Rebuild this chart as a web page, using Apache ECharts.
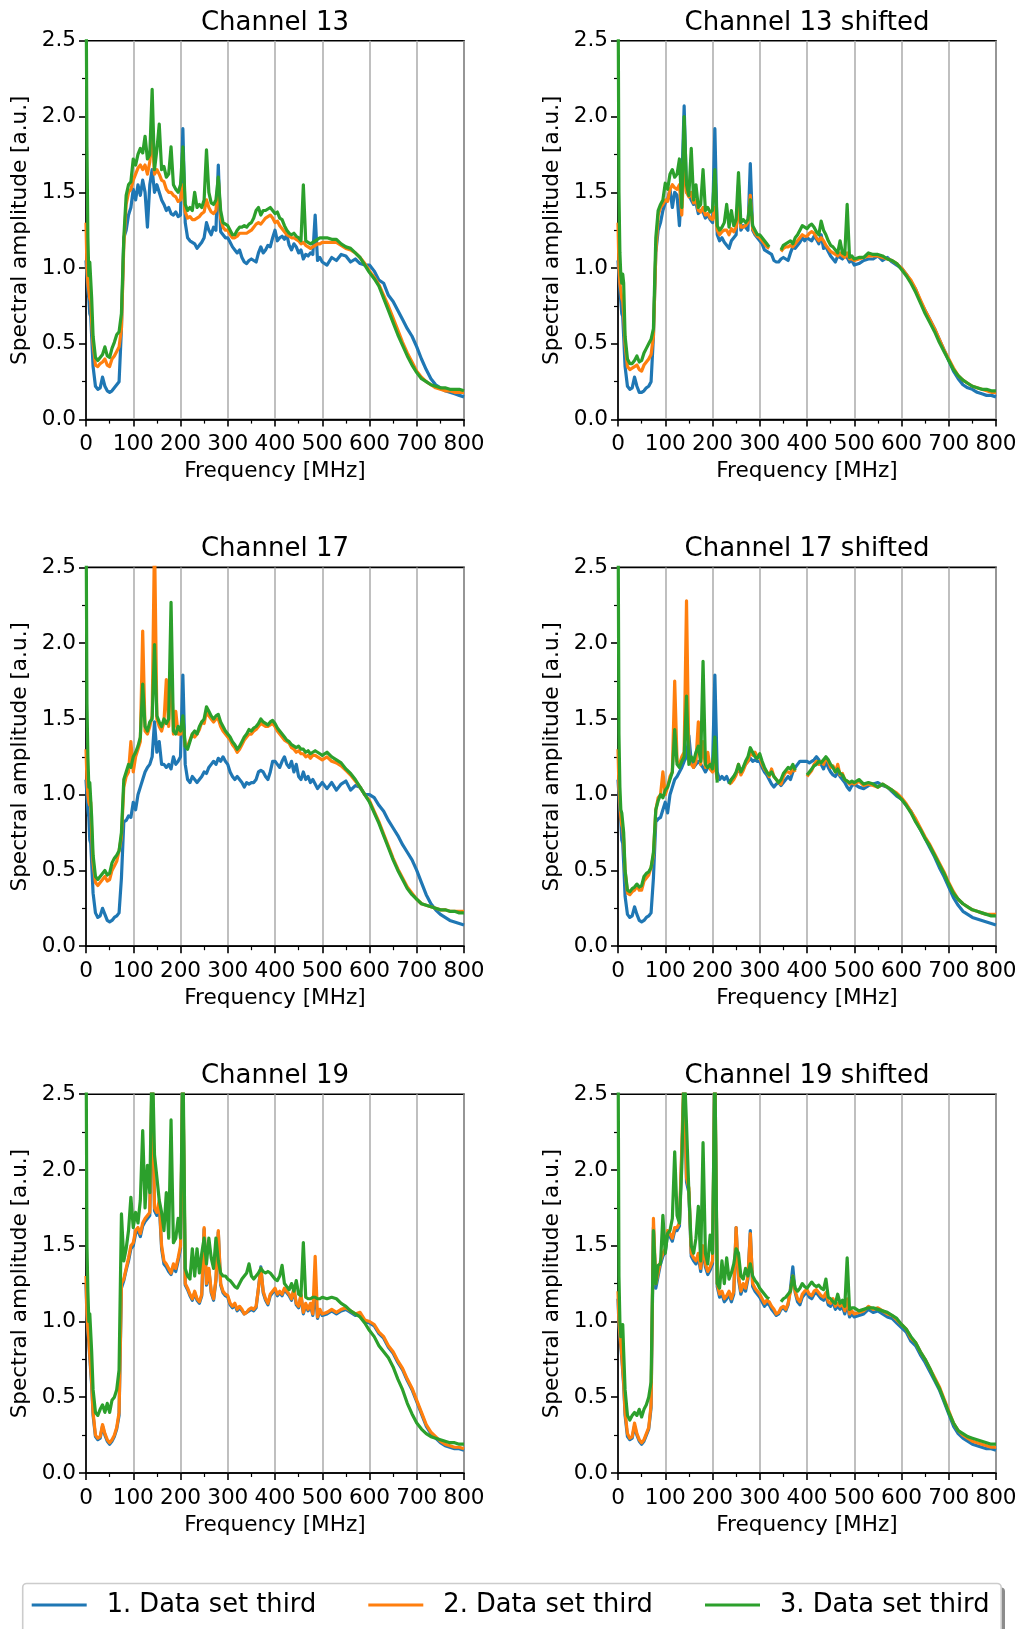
<!DOCTYPE html>
<html>
<head>
<meta charset="utf-8">
<title>Spectral amplitude per channel</title>
<script src="https://cdn.jsdelivr.net/npm/echarts@6/dist/echarts.min.js"></script>
<style>
  html, body { margin: 0; padding: 0; background: #fff; }
  #chart { width: 1022px; height: 1629px; }
</style>
</head>
<body>
<div id="chart"></div>
<script>
// Frequency sampling points [MHz], shared by every trace
const FREQ = [
  0, 2, 4, 6, 8, 10, 12,
  15, 20, 25, 30, 35, 40, 45, 50, 55, 60, 65, 70, 75, 80, 85, 90, 95,
  100, 105, 110, 115, 120, 125, 130, 135, 140, 145, 150, 155, 160, 165, 170, 175, 180, 185, 190, 195,
  200, 205, 210, 215, 220, 225, 230, 235, 240, 245, 250, 255, 260, 265, 270, 275, 280, 285, 290, 295,
  300, 305, 310, 315, 320, 325, 330, 335, 340, 345, 350, 355, 360, 365, 370, 375, 380, 385, 390, 395,
  400, 405, 410, 415, 420, 425, 430, 435, 440, 445, 450, 455, 460, 465, 470, 475, 480, 485, 490, 495,
  500, 510, 520, 530, 540, 550, 560, 570, 580, 590,
  600, 610, 620, 630, 640, 650, 660, 670, 680, 690,
  700, 710, 720, 730, 740, 750, 760, 770, 780, 790, 800
];

const SET_NAMES = ['1. Data set third', '2. Data set third', '3. Data set third'];
const SET_COLORS = ['#1f77b4', '#ff7f0e', '#2ca02c'];
const PANEL_TITLES = ['Channel 13', 'Channel 13 shifted', 'Channel 17', 'Channel 17 shifted', 'Channel 19', 'Channel 19 shifted'];
const X_LABEL = 'Frequency [MHz]';
const Y_LABEL = 'Spectral amplitude [a.u.]';
const X_TICKS = [0, 100, 200, 300, 400, 500, 600, 700, 800];
const Y_TICKS = [0.0, 0.5, 1.0, 1.5, 2.0, 2.5];

// ---- Channel 13 ----
const ch13_set1 = [
  1.05,0.95,0.85,0.80,0.70,0.68,0.55,
  0.35,0.22,0.20,0.21,0.28,0.22,0.19,0.18,0.19,0.21,0.23,0.25,0.60,1.20,1.25,1.35,1.40,
  1.52,1.45,1.55,1.48,1.58,1.50,1.27,1.55,1.65,1.50,1.55,1.50,1.45,1.42,1.38,1.40,1.36,1.35,1.37,1.34,
  1.35,1.92,1.30,1.20,1.18,1.17,1.16,1.13,1.15,1.17,1.20,1.30,1.25,1.22,1.27,1.25,1.68,1.24,1.22,1.20,
  1.20,1.17,1.14,1.12,1.10,1.12,1.07,1.04,1.03,1.05,1.06,1.05,1.04,1.10,1.14,1.10,1.12,1.15,1.14,1.20,
  1.25,1.18,1.20,1.21,1.19,1.22,1.15,1.12,1.16,1.14,1.10,1.12,1.06,1.09,1.08,1.10,1.09,1.35,1.05,1.07,
  1.04,1.02,1.07,1.05,1.09,1.08,1.04,1.06,1.03,1.02,
  1.02,0.98,0.92,0.90,0.82,0.78,0.72,0.66,0.60,0.55,
  0.48,0.40,0.33,0.27,0.23,0.21,0.19,0.18,0.17,0.16,0.15
];
const ch13_set2 = [
  1.30,1.00,0.90,0.85,0.80,0.78,0.65,
  0.50,0.36,0.35,0.37,0.38,0.40,0.36,0.35,0.40,0.42,0.45,0.48,0.60,1.15,1.42,1.50,1.52,
  1.58,1.62,1.66,1.68,1.65,1.68,1.62,1.70,1.88,1.62,1.65,1.62,1.58,1.57,1.52,1.50,1.50,1.48,1.47,1.44,
  1.45,1.55,1.37,1.33,1.34,1.32,1.32,1.33,1.34,1.36,1.37,1.45,1.40,1.37,1.36,1.38,1.58,1.33,1.27,1.25,
  1.25,1.22,1.20,1.20,1.21,1.23,1.23,1.23,1.23,1.24,1.25,1.27,1.29,1.30,1.29,1.31,1.33,1.34,1.35,1.33,
  1.30,1.31,1.28,1.26,1.24,1.22,1.21,1.20,1.20,1.19,1.18,1.16,1.17,1.15,1.14,1.13,1.14,1.15,1.16,1.16,
  1.17,1.17,1.17,1.17,1.15,1.13,1.12,1.10,1.07,1.03,
  0.98,0.94,0.89,0.82,0.75,0.67,0.59,0.51,0.44,0.38,
  0.32,0.28,0.25,0.23,0.21,0.20,0.19,0.19,0.18,0.18,0.18
];
const ch13_set3 = [
  3.00,1.80,1.20,0.95,1.04,1.04,0.80,
  0.55,0.41,0.39,0.41,0.43,0.48,0.42,0.41,0.47,0.51,0.56,0.58,0.70,1.20,1.48,1.55,1.57,
  1.72,1.68,1.75,1.79,1.76,1.87,1.72,1.75,2.18,1.65,1.78,1.95,1.65,1.67,1.60,1.62,1.80,1.55,1.52,1.50,
  1.55,1.80,1.42,1.38,1.40,1.38,1.50,1.40,1.42,1.40,1.45,1.78,1.50,1.43,1.42,1.45,1.60,1.38,1.30,1.29,
  1.28,1.25,1.22,1.22,1.25,1.27,1.27,1.28,1.27,1.29,1.30,1.33,1.38,1.40,1.35,1.38,1.38,1.39,1.40,1.38,
  1.36,1.37,1.33,1.32,1.28,1.25,1.23,1.22,1.23,1.21,1.20,1.18,1.55,1.18,1.17,1.16,1.17,1.18,1.19,1.20,
  1.20,1.20,1.19,1.19,1.16,1.14,1.13,1.10,1.07,1.02,
  0.97,0.93,0.88,0.80,0.72,0.64,0.56,0.49,0.42,0.36,
  0.31,0.27,0.25,0.23,0.22,0.21,0.21,0.20,0.20,0.20,0.19
];

// ---- Channel 13 shifted ----
const ch13s_set1 = [
  1.05,0.95,0.85,0.78,0.70,0.68,0.55,
  0.35,0.22,0.20,0.21,0.28,0.22,0.18,0.18,0.19,0.21,0.22,0.25,0.55,1.10,1.25,1.30,1.38,
  1.43,1.45,1.52,1.40,1.50,1.48,1.28,1.55,2.07,1.50,1.48,1.45,1.42,1.43,1.36,1.38,1.37,1.33,1.35,1.32,
  1.30,1.92,1.22,1.18,1.20,1.17,1.15,1.13,1.18,1.20,1.22,1.55,1.25,1.28,1.27,1.25,1.69,1.25,1.22,1.20,
  1.18,1.16,1.12,1.11,1.10,1.09,1.05,1.04,1.04,1.06,1.07,1.06,1.05,1.10,1.14,1.13,1.15,1.17,1.20,1.18,
  1.20,1.19,1.18,1.21,1.19,1.16,1.22,1.13,1.14,1.11,1.08,1.06,1.04,1.08,1.07,1.06,1.09,1.07,1.04,1.05,
  1.02,1.03,1.05,1.06,1.06,1.08,1.05,1.07,1.04,1.02,
  1.00,0.96,0.91,0.86,0.78,0.72,0.66,0.60,0.53,0.46,
  0.39,0.32,0.27,0.23,0.21,0.20,0.18,0.17,0.16,0.16,0.15
];
const ch13s_set2 = [
  1.30,1.00,0.90,0.85,0.80,0.78,0.70,
  0.50,0.35,0.33,0.34,0.35,0.36,0.33,0.32,0.36,0.38,0.40,0.43,0.55,1.10,1.35,1.40,1.42,
  1.45,1.44,1.52,1.55,1.53,1.52,1.55,1.35,1.75,1.50,1.47,1.50,1.43,1.45,1.38,1.37,1.40,1.35,1.36,1.33,
  1.32,1.40,1.25,1.22,1.24,1.25,1.25,1.22,1.26,1.24,1.27,1.40,1.27,1.27,1.28,1.30,1.48,1.26,1.23,1.21,
  1.20,1.18,1.16,1.14,1.13,null,null,null,null,1.11,1.13,1.14,1.14,1.15,1.14,1.16,1.18,1.20,1.22,1.21,
  1.21,1.23,1.24,1.23,1.20,1.18,1.20,1.18,1.15,1.13,1.11,1.10,1.09,1.08,1.10,1.08,1.07,1.10,1.06,1.06,
  1.05,1.06,1.07,1.08,1.08,1.08,1.07,1.06,1.05,1.03,
  1.00,0.96,0.92,0.86,0.79,0.72,0.66,0.60,0.53,0.46,
  0.40,0.34,0.29,0.26,0.24,0.22,0.21,0.20,0.19,0.18,0.18
];
const ch13s_set3 = [
  3.00,1.50,1.10,0.95,0.90,0.96,0.90,
  0.55,0.40,0.37,0.37,0.39,0.42,0.38,0.39,0.44,0.47,0.50,0.53,0.60,1.20,1.38,1.42,1.45,
  1.56,1.52,1.62,1.65,1.60,1.62,1.72,1.40,2.00,1.55,1.48,1.79,1.45,1.55,1.40,1.42,1.65,1.38,1.40,1.37,
  1.38,1.65,1.28,1.25,1.27,1.30,1.42,1.27,1.38,1.28,1.32,1.63,1.30,1.32,1.30,1.32,1.45,1.28,1.25,1.22,
  1.22,1.20,1.18,1.16,1.14,null,null,null,null,1.12,1.15,1.16,1.17,1.18,1.16,1.20,1.22,1.25,1.28,1.27,
  1.26,1.28,1.29,1.27,1.24,1.22,1.31,1.25,1.22,1.18,1.15,1.14,1.12,1.10,1.18,1.10,1.09,1.42,1.07,1.08,
  1.06,1.07,1.07,1.10,1.09,1.09,1.08,1.06,1.05,1.03,
  0.99,0.95,0.90,0.84,0.77,0.70,0.64,0.58,0.51,0.45,
  0.39,0.33,0.29,0.26,0.24,0.22,0.21,0.20,0.20,0.19,0.19
];

// ---- Channel 17 ----
const ch17_set1 = [
  1.10,1.00,0.90,0.85,0.70,0.68,0.55,
  0.35,0.22,0.19,0.20,0.25,0.21,0.17,0.16,0.17,0.19,0.20,0.22,0.45,0.82,0.83,0.86,0.85,
  0.95,0.90,1.00,1.05,1.10,1.15,1.18,1.20,1.25,1.48,1.28,1.35,1.20,1.20,1.18,1.20,1.17,1.25,1.20,1.22,
  1.25,1.79,1.20,1.10,1.08,1.12,1.10,1.08,1.10,1.12,1.15,1.14,1.18,1.20,1.22,1.20,1.24,1.22,1.25,1.22,
  1.20,1.15,1.12,1.10,1.12,1.10,1.08,1.05,1.08,1.07,1.08,1.08,1.10,1.15,1.16,1.15,1.12,1.10,1.15,1.22,
  1.22,1.20,1.18,1.22,1.25,1.20,1.18,1.22,1.15,1.20,1.12,1.10,1.15,1.10,1.12,1.08,1.10,1.07,1.04,1.06,
  1.08,1.04,1.08,1.03,1.07,1.09,1.03,1.06,1.05,1.00,
  1.00,0.98,0.93,0.89,0.83,0.78,0.73,0.67,0.62,0.57,
  0.50,0.42,0.34,0.28,0.24,0.21,0.19,0.17,0.16,0.15,0.14
];
const ch17_set2 = [
  1.30,1.10,1.00,0.95,0.93,0.95,0.75,
  0.55,0.42,0.40,0.42,0.44,0.46,0.43,0.44,0.50,0.53,0.56,0.63,0.72,1.05,1.12,1.15,1.35,
  1.15,1.25,1.30,1.35,2.08,1.42,1.40,1.45,1.52,2.70,1.50,1.45,1.42,1.48,1.76,1.45,1.90,1.40,1.55,1.40,
  1.40,1.48,1.32,1.32,1.36,1.40,1.38,1.40,1.43,1.48,1.47,1.55,1.52,1.50,1.48,1.50,1.50,1.45,1.42,1.40,
  1.38,1.36,1.33,1.31,1.28,1.30,1.33,1.36,1.38,1.40,1.40,1.42,1.43,1.45,1.47,1.46,1.45,1.45,1.46,1.47,
  1.45,1.42,1.40,1.38,1.36,1.35,1.34,1.31,1.30,1.28,1.29,1.27,1.27,1.25,1.26,1.24,1.26,1.26,1.25,1.24,
  1.23,1.25,1.22,1.21,1.19,1.16,1.13,1.09,1.05,1.00,
  0.96,0.89,0.82,0.74,0.66,0.58,0.51,0.45,0.39,0.35,
  0.31,0.28,0.27,0.26,0.25,0.24,0.24,0.23,0.23,0.23,0.23
];
const ch17_set3 = [
  3.00,1.60,1.25,1.05,1.08,1.08,0.85,
  0.60,0.46,0.44,0.46,0.48,0.50,0.47,0.48,0.55,0.58,0.60,0.63,0.75,1.10,1.15,1.20,1.18,
  1.25,1.28,1.32,1.38,1.73,1.45,1.42,1.48,1.50,1.99,1.52,1.48,1.45,1.50,1.47,1.50,2.27,1.42,1.40,1.45,
  1.42,1.52,1.32,1.30,1.35,1.40,1.42,1.40,1.45,1.48,1.50,1.58,1.55,1.52,1.50,1.52,1.53,1.48,1.45,1.42,
  1.40,1.38,1.35,1.33,1.30,1.32,1.35,1.38,1.40,1.43,1.42,1.44,1.45,1.47,1.50,1.48,1.47,1.46,1.48,1.49,
  1.47,1.44,1.42,1.40,1.38,1.36,1.35,1.33,1.32,1.31,1.32,1.30,1.30,1.28,1.29,1.27,1.28,1.29,1.28,1.27,
  1.26,1.28,1.25,1.23,1.21,1.17,1.14,1.10,1.05,1.00,
  0.95,0.88,0.81,0.73,0.65,0.57,0.50,0.44,0.38,0.34,
  0.31,0.28,0.27,0.26,0.25,0.24,0.24,0.23,0.23,0.22,0.22
];

// ---- Channel 17 shifted ----
const ch17s_set1 = [
  1.10,1.00,0.90,0.82,0.70,0.68,0.55,
  0.33,0.21,0.19,0.20,0.26,0.21,0.17,0.16,0.17,0.19,0.20,0.22,0.45,0.82,0.84,0.85,0.90,
  0.95,0.88,1.00,1.05,1.10,1.12,1.15,1.18,1.22,1.25,1.39,1.22,1.18,1.20,1.22,1.20,1.18,1.15,1.18,1.20,
  1.18,1.79,1.15,1.10,1.12,1.10,1.12,1.08,1.10,1.12,1.14,1.16,1.15,1.18,1.20,1.22,1.24,1.22,1.23,1.22,
  1.22,1.18,1.15,1.13,1.10,1.07,1.05,1.07,1.08,1.06,1.08,1.10,1.12,1.10,1.15,1.18,1.20,1.22,1.22,1.22,
  1.22,1.21,1.22,1.23,1.25,1.23,1.20,1.17,1.22,1.18,1.15,1.13,1.12,1.15,1.12,1.10,1.08,1.05,1.03,1.06,
  1.07,1.05,1.04,1.06,1.07,1.08,1.06,1.05,1.02,0.99,
  0.97,0.93,0.89,0.83,0.77,0.71,0.65,0.59,0.52,0.46,
  0.39,0.32,0.27,0.23,0.21,0.19,0.18,0.17,0.16,0.15,0.14
];
const ch17s_set2 = [
  1.30,1.05,0.95,0.85,0.80,0.78,0.70,
  0.50,0.35,0.34,0.36,0.37,0.40,0.37,0.37,0.43,0.45,0.47,0.52,0.60,0.90,0.98,1.00,1.15,
  1.00,1.05,1.12,1.15,1.75,1.22,1.20,1.25,1.28,2.28,1.22,1.20,1.18,1.22,1.48,1.20,1.35,1.18,1.28,1.17,
  1.15,1.20,1.10,null,null,null,null,1.07,1.08,1.10,1.13,1.20,1.13,1.16,1.20,1.22,1.28,1.26,1.28,1.25,
  1.25,1.20,1.17,1.15,1.12,1.17,1.12,1.10,1.08,1.07,1.12,1.15,1.15,1.14,1.18,1.15,null,null,null,null,
  1.12,1.14,1.16,1.20,1.22,1.20,1.22,1.20,1.24,1.22,1.18,1.19,1.15,1.20,1.13,1.14,1.10,1.09,1.07,1.08,
  1.07,1.09,1.06,1.07,1.06,1.05,1.07,1.05,1.03,1.01,
  0.98,0.94,0.89,0.84,0.78,0.72,0.67,0.61,0.55,0.49,
  0.42,0.36,0.31,0.28,0.26,0.24,0.23,0.22,0.21,0.21,0.21
];
const ch17s_set3 = [
  3.00,1.40,1.05,0.90,0.88,0.88,0.75,
  0.50,0.37,0.36,0.38,0.39,0.41,0.39,0.40,0.46,0.48,0.49,0.52,0.62,0.90,0.96,1.00,0.98,
  1.03,1.05,1.10,1.15,1.43,1.20,1.18,1.22,1.25,1.65,1.20,1.25,1.22,1.28,1.32,1.22,1.88,1.20,1.18,1.20,
  1.17,1.38,1.08,null,null,null,null,1.07,1.10,1.12,1.15,1.20,1.15,1.18,1.22,1.25,1.31,1.28,1.25,1.24,
  1.27,1.22,1.18,1.15,1.13,1.15,1.12,1.10,1.08,1.10,1.14,1.16,1.18,1.17,1.20,1.16,null,null,null,null,
  1.13,1.15,1.17,1.19,1.20,1.22,1.21,1.23,1.25,1.23,1.20,1.18,1.15,1.17,1.14,1.13,1.10,1.09,1.08,1.09,
  1.08,1.10,1.07,1.08,1.07,1.05,1.07,1.05,1.03,1.00,
  0.97,0.93,0.88,0.82,0.77,0.71,0.66,0.60,0.54,0.48,
  0.41,0.35,0.31,0.28,0.26,0.24,0.23,0.22,0.21,0.20,0.20
];

// ---- Channel 19 ----
const ch19_set1 = [
  1.25,1.03,0.93,0.86,0.76,0.75,0.58,
  0.38,0.24,0.22,0.23,0.31,0.25,0.21,0.19,0.21,0.24,0.29,0.38,1.22,1.27,1.34,1.40,1.48,
  1.50,1.58,1.60,1.56,1.63,1.66,1.68,1.70,2.60,1.73,1.70,1.78,1.48,1.38,1.36,1.33,1.31,1.36,1.33,1.40,
  1.48,2.60,1.24,1.21,1.17,1.14,1.19,1.14,1.12,1.17,1.61,1.24,1.34,1.19,1.14,1.27,1.59,1.24,1.19,1.17,
  1.16,1.11,1.09,1.11,1.07,1.09,1.07,1.05,1.06,1.07,1.08,1.07,1.09,1.22,1.36,1.19,1.14,1.11,1.17,1.19,
  1.21,1.17,1.19,1.17,1.21,1.19,1.17,1.14,1.21,1.11,1.09,1.17,1.05,1.11,1.07,1.11,1.04,1.20,1.02,1.07,
  1.04,1.05,1.07,1.05,1.07,1.08,1.06,1.04,1.05,1.00,
  0.99,0.97,0.92,0.89,0.83,0.79,0.73,0.68,0.61,0.55,
  0.47,0.39,0.31,0.26,0.23,0.20,0.18,0.17,0.16,0.16,0.15
];
const ch19_set2 = [
  1.30,1.05,0.95,0.88,0.78,0.77,0.60,
  0.40,0.25,0.23,0.24,0.32,0.26,0.22,0.20,0.22,0.25,0.30,0.40,1.25,1.28,1.35,1.42,1.50,
  1.52,1.60,1.62,1.58,1.65,1.68,1.70,1.72,2.70,1.75,1.72,1.80,1.50,1.40,1.38,1.35,1.32,1.38,1.35,1.42,
  1.50,2.70,1.25,1.22,1.18,1.15,1.20,1.15,1.13,1.18,1.62,1.25,1.35,1.20,1.15,1.28,1.60,1.25,1.20,1.18,
  1.17,1.12,1.10,1.12,1.08,1.10,1.08,1.05,1.06,1.08,1.09,1.08,1.10,1.22,1.35,1.20,1.15,1.12,1.18,1.20,
  1.22,1.18,1.20,1.18,1.22,1.20,1.18,1.15,1.22,1.12,1.10,1.18,1.06,1.12,1.08,1.12,1.05,1.43,1.03,1.08,
  1.05,1.06,1.08,1.06,1.08,1.09,1.07,1.05,1.06,1.01,
  1.00,0.98,0.93,0.90,0.84,0.80,0.74,0.69,0.62,0.56,
  0.48,0.40,0.32,0.27,0.24,0.21,0.19,0.18,0.17,0.17,0.16
];
const ch19_set3 = [
  3.00,1.50,1.20,1.00,1.05,1.05,0.80,
  0.55,0.40,0.38,0.42,0.45,0.40,0.46,0.40,0.48,0.50,0.55,0.68,1.71,1.40,1.48,1.60,1.82,
  1.62,1.72,1.65,1.80,2.26,1.75,2.03,1.85,2.80,2.10,1.95,1.80,1.72,1.60,1.85,1.55,2.33,1.52,1.55,1.68,
  1.55,2.80,1.35,1.30,1.28,1.48,1.30,1.48,1.32,1.45,1.55,1.38,1.55,1.42,1.35,1.55,1.40,1.32,1.30,1.30,
  1.28,1.27,1.25,1.23,1.22,1.25,1.28,1.30,1.32,1.38,1.30,1.28,1.30,1.32,1.35,1.33,1.32,1.33,1.32,1.30,
  1.28,1.27,1.30,1.37,1.25,1.23,1.21,1.25,1.20,1.27,1.18,1.17,1.52,1.16,1.15,1.15,1.16,1.16,1.15,1.15,
  1.16,1.15,1.16,1.15,1.12,1.10,1.07,1.05,1.03,0.99,
  0.94,0.90,0.84,0.80,0.76,0.70,0.62,0.55,0.46,0.39,
  0.33,0.29,0.26,0.24,0.23,0.22,0.21,0.20,0.20,0.19,0.19
];

// ---- Channel 19 shifted ----
const ch19s_set1 = [
  1.15,0.98,0.90,0.83,0.76,0.75,0.58,
  0.38,0.24,0.22,0.23,0.31,0.25,0.21,0.19,0.21,0.25,0.29,0.43,1.62,1.22,1.30,1.38,1.43,
  1.46,1.58,1.56,1.53,1.60,1.60,1.63,2.10,2.60,1.92,1.85,1.43,1.40,1.38,1.43,1.33,1.48,1.36,1.31,1.34,
  1.38,2.60,1.23,1.16,1.18,1.13,1.15,1.18,1.13,1.18,1.62,1.28,1.18,1.23,1.20,1.28,1.60,1.23,1.20,1.18,
  1.16,1.13,1.10,1.12,1.11,1.08,1.06,1.04,1.05,1.08,1.09,1.07,1.11,1.22,1.36,1.19,1.13,1.11,1.16,1.18,
  1.19,1.16,1.15,1.18,1.19,1.17,1.15,1.14,1.17,1.11,1.10,1.13,1.08,1.10,1.08,1.10,1.05,1.12,1.03,1.05,
  1.03,1.04,1.05,1.08,1.06,1.07,1.05,1.03,1.02,0.99,
  0.96,0.93,0.87,0.84,0.78,0.73,0.67,0.61,0.55,0.47,
  0.39,0.31,0.26,0.23,0.21,0.19,0.18,0.17,0.16,0.16,0.15
];
const ch19s_set2 = [
  1.20,1.00,0.92,0.85,0.78,0.77,0.60,
  0.40,0.26,0.23,0.24,0.33,0.26,0.22,0.20,0.22,0.26,0.30,0.45,1.68,1.25,1.32,1.40,1.45,
  1.48,1.60,1.58,1.55,1.62,1.62,1.65,2.15,2.70,1.95,1.88,1.45,1.42,1.40,1.45,1.35,1.50,1.38,1.33,1.36,
  1.40,2.70,1.25,1.18,1.20,1.15,1.17,1.20,1.15,1.20,1.62,1.30,1.20,1.25,1.22,1.30,1.58,1.25,1.22,1.20,
  1.18,1.15,1.12,1.14,1.13,1.10,1.08,1.05,1.06,1.09,1.10,1.08,1.12,1.20,1.30,1.20,1.15,1.13,1.18,1.20,
  1.21,1.18,1.17,1.20,1.21,1.19,1.17,1.16,1.19,1.13,1.12,1.15,1.10,1.12,1.10,1.12,1.07,1.15,1.05,1.07,
  1.05,1.06,1.07,1.10,1.08,1.09,1.07,1.05,1.04,1.01,
  0.98,0.95,0.89,0.86,0.80,0.75,0.69,0.63,0.57,0.49,
  0.41,0.33,0.28,0.25,0.23,0.21,0.20,0.19,0.18,0.17,0.17
];
const ch19s_set3 = [
  3.00,1.30,1.00,0.90,0.95,0.98,0.80,
  0.55,0.38,0.35,0.38,0.40,0.38,0.42,0.37,0.42,0.45,0.50,0.60,1.60,1.25,1.37,1.38,1.70,
  1.45,1.58,1.60,1.68,2.12,1.70,1.65,2.02,2.70,2.30,1.85,1.50,1.45,1.55,1.76,1.40,2.18,1.45,1.38,1.57,
  1.45,2.70,1.25,1.22,1.40,1.25,1.42,1.28,1.32,1.38,1.48,1.45,1.30,1.28,1.35,1.30,1.38,1.30,1.27,1.25,
  1.22,1.20,1.18,1.16,1.15,null,null,null,null,1.13,1.15,1.16,1.18,1.20,1.30,1.22,1.20,1.22,1.25,1.23,
  1.22,1.24,1.26,1.24,1.23,1.24,1.22,1.21,1.28,1.16,1.15,1.13,1.12,1.18,1.12,1.14,1.10,1.42,1.08,1.09,
  1.09,1.07,1.08,1.09,1.09,1.08,1.07,1.06,1.04,1.02,
  0.98,0.95,0.90,0.86,0.80,0.75,0.69,0.62,0.56,0.48,
  0.40,0.33,0.28,0.26,0.24,0.23,0.22,0.21,0.20,0.19,0.19
];

const PANELS = [
  [ch13_set1, ch13_set2, ch13_set3],
  [ch13s_set1, ch13s_set2, ch13s_set3],
  [ch17_set1, ch17_set2, ch17_set3],
  [ch17s_set1, ch17s_set2, ch17s_set3],
  [ch19_set1, ch19_set2, ch19_set3],
  [ch19s_set1, ch19s_set2, ch19s_set3]
];

// ---------- layout ----------
const FONT = 'DejaVu Sans';
const COL_LEFT = [86, 618];
const ROW_TOP = [40.8, 567.4, 1094.2];
const PLOT_W = 378;
const PLOT_H = 378.8;
const LINE_W = 3.2;

const grids = [], xAxes = [], yAxes = [], series = [], graphics = [];

PANELS.forEach(function (sets, p) {
  const col = p % 2, row = Math.floor(p / 2);
  const left = COL_LEFT[col], top = ROW_TOP[row];
  grids.push({
    left: left, top: top, width: PLOT_W, height: PLOT_H,
    show: true, borderColor: '#000', borderWidth: 1.6, backgroundColor: 'transparent',
    containLabel: false
  });
  xAxes.push({
    type: 'value', gridIndex: p,
    min: X_TICKS[0], max: X_TICKS[X_TICKS.length - 1], interval: X_TICKS[1] - X_TICKS[0],
    name: X_LABEL, nameLocation: 'middle', nameGap: 41,
    nameTextStyle: { fontFamily: FONT, fontSize: 21.6, color: '#000' },
    axisLine: { show: true, onZero: false, lineStyle: { color: '#000', width: 1.6 } },
    axisTick: { show: true, inside: false, length: 7, lineStyle: { color: '#000', width: 1.6 } },
    minorTick: { show: true, splitNumber: 2, length: 4, lineStyle: { color: '#000', width: 1.2 } },
    axisLabel: { show: true, margin: 14, fontFamily: FONT, fontSize: 21.6, color: '#000',
                 showMinLabel: true, showMaxLabel: true },
    splitLine: { show: true, lineStyle: { color: '#b0b0b0', width: 1.6 } }
  });
  yAxes.push({
    type: 'value', gridIndex: p,
    min: Y_TICKS[0], max: Y_TICKS[Y_TICKS.length - 1], interval: Y_TICKS[1] - Y_TICKS[0],
    name: Y_LABEL, nameLocation: 'middle', nameGap: 55, nameRotate: 90,
    nameTextStyle: { fontFamily: FONT, fontSize: 21.6, color: '#000' },
    axisLine: { show: true, onZero: false, lineStyle: { color: '#000', width: 1.6 } },
    axisTick: { show: true, inside: false, length: 7, lineStyle: { color: '#000', width: 1.6 } },
    minorTick: { show: true, splitNumber: 2, length: 4, lineStyle: { color: '#000', width: 1.2 } },
    axisLabel: { show: true, margin: 10, fontFamily: FONT, fontSize: 21.6, color: '#000',
                 showMinLabel: true, showMaxLabel: true,
                 formatter: function (v) { return v.toFixed(1); } },
    splitLine: { show: false }
  });
  sets.forEach(function (vals, k) {
    series.push({
      type: 'line', name: SET_NAMES[k], xAxisIndex: p, yAxisIndex: p,
      data: FREQ.map(function (f, i) { return [f, vals[i]]; }),
      showSymbol: false, symbol: 'none', clip: true, connectNulls: false,
      color: SET_COLORS[k],
      lineStyle: { color: SET_COLORS[k], width: LINE_W, join: 'round' },
      z: 2 + k, animation: false
    });
  });
  graphics.push({
    type: 'text', x: left + PLOT_W / 2, y: top - 18,
    style: { text: PANEL_TITLES[p], fontFamily: FONT, fontSize: 26, fill: '#000',
             align: 'center', verticalAlign: 'middle', textAlign: 'center', textVerticalAlign: 'middle' }
  });
});

// legend frame with a soft drop shadow
graphics.push({
  type: 'rect', z: 0,
  shape: { x: 26.5, y: 1587.5, width: 978.5, height: 50, r: 4 },
  style: { fill: 'rgba(0,0,0,0.45)' }
});
graphics.push({
  type: 'rect', z: 1,
  shape: { x: 22.7, y: 1583.5, width: 978.5, height: 50, r: 4 },
  style: { fill: '#fff', stroke: '#cccccc', lineWidth: 1.6 }
});

const LEGEND_LEFT = [31.7, 368.3, 705];
const legends = SET_NAMES.map(function (name, k) {
  return {
    data: [name], left: LEGEND_LEFT[k], top: 1592, padding: 0, z: 10,
    icon: 'rect', itemWidth: 55, itemHeight: LINE_W, itemGap: 0, selectedMode: false,
    textStyle: { fontFamily: FONT, fontSize: 25.7, color: '#000', padding: [0, 0, 0, 15] }
  };
});

const chart = echarts.init(document.getElementById('chart'), null, { renderer: 'canvas', width: 1022, height: 1629 });
chart.setOption({
  animation: false,
  backgroundColor: '#fff',
  textStyle: { fontFamily: FONT },
  grid: grids,
  xAxis: xAxes,
  yAxis: yAxes,
  legend: legends,
  graphic: { elements: graphics },
  series: series
});
</script>
</body>
</html>
